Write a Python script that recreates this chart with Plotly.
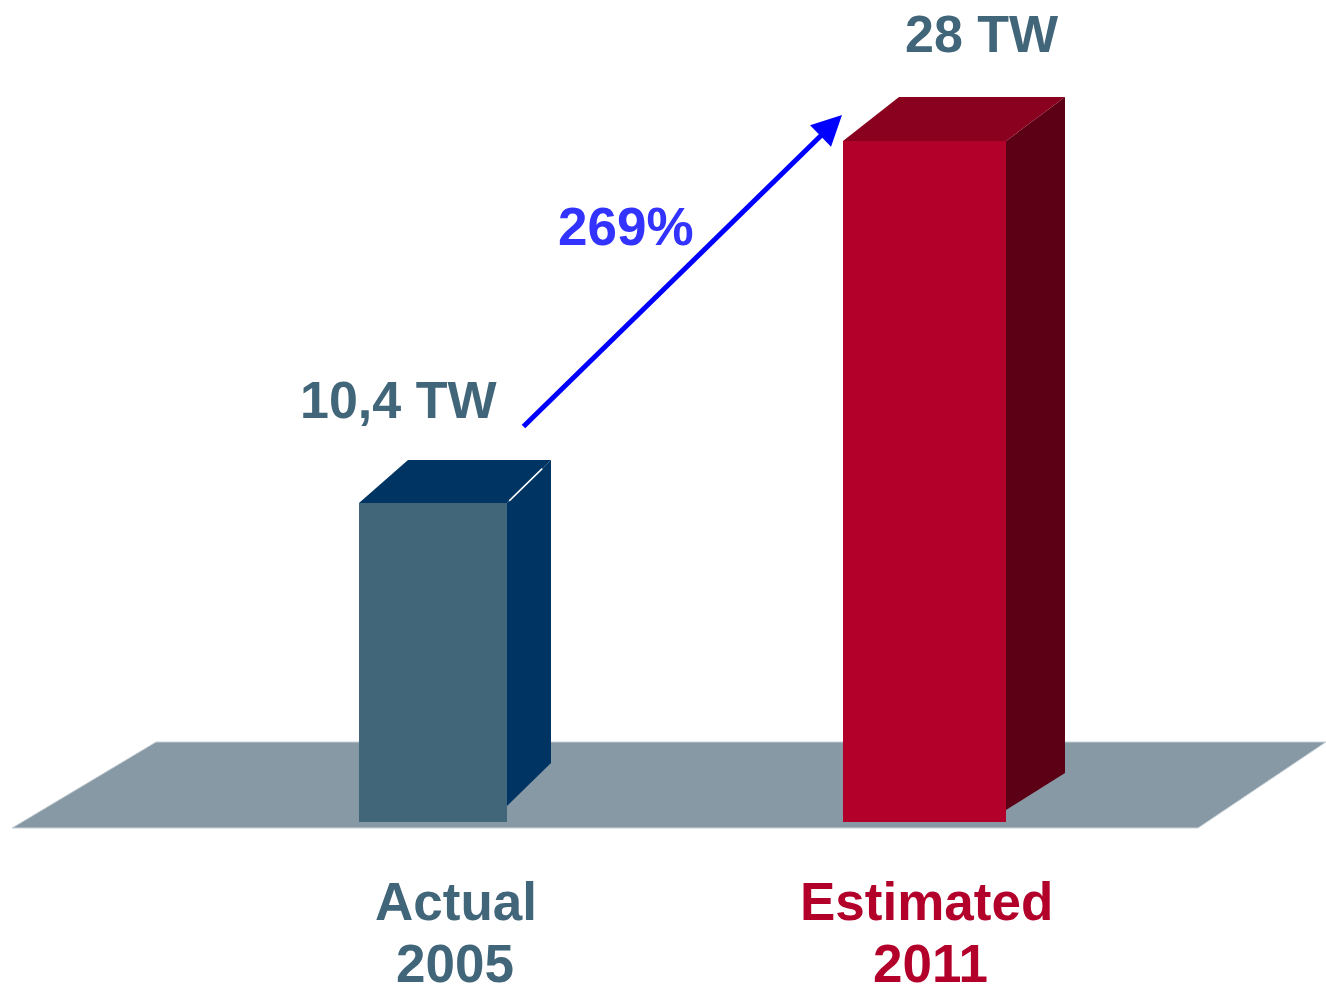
import plotly.graph_objects as go

# ---------------- data ----------------
categories = ["Actual", "Estimated"]
years = ["2005", "2011"]
values = [10.4, 28.0]
value_labels = ["10,4 TW", "28 TW"]
growth_label = "269%"

# ---------------- style / layout constants ----------------
W, H = 1326, 988
FONT = "Liberation Sans, Arial, sans-serif"
SLATE = "#416579"
front_colors = ["#416579", "#b3002a"]
top_colors = ["#003462", "#8a001f"]
side_colors = ["#003462", "#5c0016"]
label_colors = ["#416579", "#b3002a"]

# axis scaling (pixel geometry of the picture)
CENTER0_PX, CENTER_STEP_PX = 433.0, 491.5
X0 = -CENTER0_PX / CENTER_STEP_PX
X1 = X0 + W / CENTER_STEP_PX
Y_RANGE = [-13.18, 34.86]
AXIS_FLOOR = -5.11
PXX = CENTER_STEP_PX
PXY = H / (Y_RANGE[1] - Y_RANGE[0])


def dx(px):
    return px / PXX


def dy(px):
    return px / PXY


bar_width_px = [148, 163]
depth_left_px = [49, 56]
depth_right_px = [44, 59]
depth_up_px = [43, 44]
side_front_lift_px = [16, 12]
side_back_lift_px = [59, 49]

fig = go.Figure()

# front faces as bars
fig.add_trace(go.Bar(
    x=list(range(len(values))),
    y=[v - AXIS_FLOOR for v in values],
    base=AXIS_FLOOR,
    width=[dx(w) for w in bar_width_px],
    marker=dict(color=front_colors, line=dict(width=0)),
    hoverinfo="skip",
    showlegend=False,
))

# side & top faces
for i, v in enumerate(values):
    half = dx(bar_width_px[i]) / 2
    xl, xr = i - half, i + half
    vt = v + dy(depth_up_px[i])
    side_x = [xr, xr + dx(depth_right_px[i]), xr + dx(depth_right_px[i]), xr, xr]
    side_y = [v, vt, AXIS_FLOOR + dy(side_back_lift_px[i]),
              AXIS_FLOOR + dy(side_front_lift_px[i]), v]
    fig.add_trace(go.Scatter(
        x=side_x, y=side_y, mode="lines", fill="toself",
        fillcolor=side_colors[i], line=dict(width=0, color=side_colors[i]),
        hoverinfo="skip", showlegend=False,
    ))
    top_x = [xl, xr, xr + dx(depth_right_px[i]), xl + dx(depth_left_px[i]), xl]
    top_y = [v, v, vt, vt, v]
    fig.add_trace(go.Scatter(
        x=top_x, y=top_y, mode="lines", fill="toself",
        fillcolor=top_colors[i], line=dict(width=0, color=top_colors[i]),
        hoverinfo="skip", showlegend=False,
    ))

# small white highlight on first bar's top-right edge
half0 = dx(bar_width_px[0]) / 2
fig.add_trace(go.Scatter(
    x=[half0 + dx(depth_right_px[0]) * 0.05, half0 + dx(depth_right_px[0]) * 0.8],
    y=[values[0] + dy(depth_up_px[0]) * 0.05, values[0] + dy(depth_up_px[0]) * 0.8],
    mode="lines", line=dict(color="white", width=1.5),
    hoverinfo="skip", showlegend=False,
))

# floor (decorative parallelogram)
floor_px = [(12, 828), (156, 742), (1326, 742), (1198, 828)]
path = "M " + " L ".join(f"{x / W:.5f},{1 - y / H:.5f}" for x, y in floor_px) + " Z"
fig.add_shape(type="path", path=path, xref="paper", yref="paper",
              fillcolor="#8799a5", line=dict(color="#c9d2d8", width=1),
              layer="below")

annotations = []
# value labels
val_xshift = [-35, 57]
val_yshift = [103, 107]
for i, v in enumerate(values):
    annotations.append(dict(
        x=i, y=v, xref="x", yref="y", text=value_labels[i], showarrow=False,
        xshift=val_xshift[i], yshift=val_yshift[i],
        xanchor="center", yanchor="middle",
        font=dict(family=FONT, size=52, color=SLATE, weight="bold"),
    ))

# category labels (two lines)
cat_xshift = [23, 2]
year_xshift = [22, 6]
for i, (c, yv) in enumerate(zip(categories, years)):
    annotations.append(dict(
        x=i, y=AXIS_FLOOR, xref="x", yref="y", text=c, showarrow=False,
        xshift=cat_xshift[i], yshift=-79, xanchor="center", yanchor="middle",
        font=dict(family=FONT, size=53, color=label_colors[i], weight="bold"),
    ))
    annotations.append(dict(
        x=i, y=AXIS_FLOOR, xref="x", yref="y", text=yv, showarrow=False,
        xshift=year_xshift[i], yshift=-141, xanchor="center", yanchor="middle",
        font=dict(family=FONT, size=53, color=label_colors[i], weight="bold"),
    ))

# growth arrow
half1 = dx(bar_width_px[1]) / 2
tail_x, tail_y = half0 + dx(15), values[0] + dy(75)
head_x, head_y = 1 - half1 + dx(-1), values[1] + dy(26)
annotations.append(dict(
    x=head_x, y=head_y, ax=tail_x, ay=tail_y,
    xref="x", yref="y", axref="x", ayref="y",
    text="", showarrow=True, arrowhead=2, arrowsize=1.2, arrowwidth=5,
    arrowcolor="#0000ff", standoff=0, startstandoff=0,
))
annotations.append(dict(
    x=(head_x + tail_x) / 2, y=(head_y + tail_y) / 2, xref="x", yref="y",
    text=growth_label, showarrow=False, xshift=-56, yshift=45,
    xanchor="center", yanchor="middle",
    font=dict(family=FONT, size=53, color="#3333ff", weight="bold"),
))

fig.update_layout(
    width=W, height=H,
    margin=dict(l=0, r=0, t=0, b=0),
    paper_bgcolor="white", plot_bgcolor="white",
    xaxis=dict(range=[X0, X1], visible=False, fixedrange=True),
    yaxis=dict(range=Y_RANGE, visible=False, fixedrange=True),
    annotations=annotations,
    bargap=0,
    showlegend=False,
)

fig.write_html(
    "out.html",
    config={"displayModeBar": False},
    post_script="document.body.style.margin='0';document.body.style.overflow='hidden';",
)
